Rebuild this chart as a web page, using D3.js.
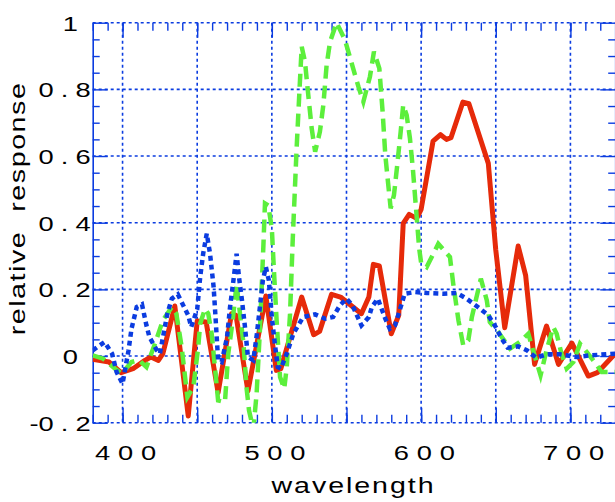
<!DOCTYPE html>
<html>
<head>
<meta charset="utf-8">
<script src="https://cdn.jsdelivr.net/npm/d3@7"></script>
<style>
  body { margin: 0; background: #fff; }
  svg { display: block; }
</style>
</head>
<body>
<script>
// values
const redNm = [380, 391, 399, 407, 415, 419, 424, 427, 435, 444, 450, 456, 464, 473, 476, 484, 496, 503, 506, 520, 528, 532, 540, 546, 560, 565, 568, 572, 580, 585, 588, 592, 597, 600, 608, 613, 617, 620, 628, 632, 645, 650, 656, 665, 670, 676, 684, 692, 701, 712, 718, 730];
const redVal = [-0.01, -0.018, -0.05, -0.038, -0.013, -0.003, -0.013, 0.007, 0.15, -0.18, 0.105, 0.102, -0.11, 0.127, 0.122, -0.105, 0.18, -0.043, -0.038, 0.177, 0.064, 0.074, 0.185, 0.177, 0.127, 0.177, 0.275, 0.27, 0.067, 0.122, 0.398, 0.425, 0.413, 0.44, 0.645, 0.664, 0.65, 0.655, 0.762, 0.757, 0.578, 0.318, 0.085, 0.33, 0.242, -0.025, 0.09, -0.025, 0.039, -0.06, -0.05, 0.007];

const blueNm = [380, 388, 393, 396, 400, 404, 406, 409.5, 413, 416, 418, 423, 425, 430, 433, 437, 444, 446, 450, 452, 454, 456.4, 458.6, 461, 462.4, 464, 466.4, 470, 472, 474, 476.4, 478, 480, 482, 484, 487.6, 490, 492, 494, 496, 498, 500, 502, 504, 506, 510, 514.4, 517.7, 521, 529, 535.6, 541, 545.6, 550, 554, 557, 560, 565, 567, 571, 576, 579, 582.5, 587, 589, 596, 604, 615, 624, 630.5, 638, 645, 650, 654, 658, 665, 671, 677, 684, 693, 704, 713, 730];
const blueVal = [0.017, 0.042, 0.007, -0.048, -0.083, 0.017, 0.082, 0.147, 0.155, 0.092, 0.057, 0.017, 0.007, 0.127, 0.172, 0.185, 0.122, 0.087, 0.14, 0.237, 0.307, 0.367, 0.307, 0.207, 0.107, -0.013, -0.018, 0.057, 0.147, 0.217, 0.307, 0.237, 0.167, 0.087, -0.003, -0.013, 0.067, 0.147, 0.227, 0.267, 0.227, 0.117, 0.037, -0.033, -0.038, 0.007, 0.067, 0.092, 0.117, 0.125, 0.112, 0.117, 0.152, 0.172, 0.152, 0.122, 0.092, 0.117, 0.147, 0.172, 0.112, 0.082, 0.092, 0.157, 0.187, 0.192, 0.189, 0.187, 0.189, 0.172, 0.147, 0.122, 0.087, 0.052, 0.025, 0.029, 0.017, -0.005, 0.005, 0.005, -0.003, 0.002, 0.007];

const greenNm = [380, 387, 395, 399.4, 406, 411, 416, 421.7, 427, 433, 436, 439.6, 443.4, 447.4, 450.7, 452, 455.2, 457.4, 459.7, 464, 468.6, 470.8, 473.5, 476.4, 477.5, 481, 483, 484.7, 487.6, 489.8, 492, 494.3, 495.4, 497.6, 500, 501.4, 503.2, 505.5, 508.3, 510, 512.2, 514, 516.6, 518.8, 520, 522.2, 524.4, 526.7, 529, 532.2, 534.5, 536.7, 539, 543.4, 549, 553.5, 558, 561.3, 565.7, 568.4, 572, 574.2, 576, 578, 579.6, 581.8, 584, 586.3, 588, 590.3, 592.5, 594.5, 596.5, 598.7, 600, 603.7, 609.3, 611.5, 619.3, 621.5, 625, 628.2, 631.6, 634, 640, 644, 646, 651.7, 659.5, 666, 671.8, 675, 680, 684, 688.5, 690.8, 694, 697.5, 702, 706.4, 711, 715.3, 721, 730];
const greenVal = [0.002, -0.008, -0.038, -0.053, -0.018, -0.012, -0.033, 0.037, 0.107, 0.147, 0.127, 0.027, -0.123, -0.093, 0.027, 0.097, 0.142, 0.127, 0.067, -0.133, -0.138, 0.007, 0.097, 0.217, 0.172, 0.037, -0.093, -0.163, -0.22, -0.113, 0.077, 0.327, 0.458, 0.452, 0.382, 0.257, 0.107, -0.063, -0.098, -0.033, 0.127, 0.35, 0.623, 0.823, 0.928, 0.883, 0.783, 0.683, 0.613, 0.673, 0.753, 0.873, 0.943, 1.0, 0.948, 0.878, 0.808, 0.763, 0.838, 0.913, 0.863, 0.733, 0.603, 0.513, 0.443, 0.483, 0.573, 0.673, 0.753, 0.723, 0.653, 0.56, 0.447, 0.322, 0.28, 0.267, 0.317, 0.337, 0.297, 0.217, 0.107, 0.032, 0.047, 0.117, 0.232, 0.167, 0.102, 0.072, 0.022, 0.042, 0.067, 0.017, -0.058, 0.017, 0.087, 0.067, 0.007, -0.038, -0.018, 0.037, 0.012, -0.013, -0.048, -0.048];

const xLabelTicks = [400, 500, 600, 700];
const xGridTicks = [400, 450, 500, 550, 600, 650, 700];
const xMinorTicks = [380, 390, 400, 410, 420, 430, 440, 450, 460, 470, 480, 490, 500, 510, 520, 530, 540, 550, 560, 570, 580, 590, 600, 610, 620, 630, 640, 650, 660, 670, 680, 690, 700, 710, 720, 730];
const yLabelTicks = [-0.2, 0, 0.2, 0.4, 0.6, 0.8, 1];
const yMinorTicks = [-0.15, -0.1, -0.05, 0.05, 0.1, 0.15, 0.25, 0.3, 0.35, 0.45, 0.5, 0.55, 0.65, 0.7, 0.75, 0.85, 0.9, 0.95];

const width = 615;
const height = 502;
const blue = '#0b3ce0';
const font = '"Liberation Sans", Arial, Helvetica, sans-serif';

const x = d3.scaleLinear().domain([380, 730]).range([92.7, 615.2]);
const y = d3.scaleLinear().domain([-0.2, 1]).range([422.7, 22.7]);

const svg = d3.select('body')
  .append('svg')
  .attr('width', width)
  .attr('height', height);

// dotted grid
svg.append('g').selectAll('line')
  .data(xGridTicks)
  .enter()
  .append('line')
  .attr('x1', d => x(d)).attr('x2', d => x(d))
  .attr('y1', y(1)).attr('y2', y(-0.2))
  .attr('stroke', blue).attr('stroke-width', 1.6)
  .attr('stroke-dasharray', '3,3');

svg.append('g').selectAll('line')
  .data(yLabelTicks)
  .enter()
  .append('line')
  .attr('x1', x(380)).attr('x2', x(730))
  .attr('y1', d => y(d)).attr('y2', d => y(d))
  .attr('stroke', blue).attr('stroke-width', 1.6)
  .attr('stroke-dasharray', '3,3');

// tick marks on all four sides
function tickAxis(axis, transform, keepDomain) {
  const g = svg.append('g').attr('transform', transform).call(axis);
  g.selectAll('line').attr('stroke', blue).attr('stroke-width', 1.4);
  g.selectAll('text').remove();
  if (keepDomain) g.select('.domain').attr('stroke', blue).attr('stroke-width', 1.6);
  else g.select('.domain').remove();
}

tickAxis(d3.axisTop(x).tickValues(xMinorTicks).tickSize(8).tickSizeOuter(0), `translate(0,${y(-0.2)})`, false);
tickAxis(d3.axisTop(x).tickValues(xGridTicks).tickSize(15).tickSizeOuter(0), `translate(0,${y(-0.2)})`, false);
tickAxis(d3.axisBottom(x).tickValues(xMinorTicks).tickSize(8).tickSizeOuter(0), `translate(0,${y(1)})`, false);
tickAxis(d3.axisBottom(x).tickValues(xGridTicks).tickSize(15).tickSizeOuter(0), `translate(0,${y(1)})`, false);
tickAxis(d3.axisRight(y).tickValues(yMinorTicks).tickSize(7).tickSizeOuter(0), `translate(${x(380)},0)`, true);
tickAxis(d3.axisRight(y).tickValues(yLabelTicks).tickSize(15).tickSizeOuter(0), `translate(${x(380)},0)`, false);
tickAxis(d3.axisLeft(y).tickValues(yMinorTicks).tickSize(7).tickSizeOuter(0), `translate(${x(730)},0)`, true);
tickAxis(d3.axisLeft(y).tickValues(yLabelTicks).tickSize(15).tickSizeOuter(0), `translate(${x(730)},0)`, false);

// tick labels (wide, spaced lettering)
const xl = svg.append('g')
  .attr('transform', 'translate(0,460)')
  .call(d3.axisBottom(x).tickValues(xLabelTicks).tickSize(0).tickFormat(d3.format('d')));
xl.select('.domain').remove();
xl.selectAll('text')
  .attr('y', 0).attr('dy', 0).attr('dx', 5)
  .attr('transform', 'scale(1.3,1)')
  .attr('fill', '#000')
  .style('font-family', font).style('font-size', '21px')
  .style('letter-spacing', '6px')
  .attr('text-anchor', 'middle');

const yl = svg.append('g')
  .attr('transform', `translate(${x(380)},0)`)
  .call(d3.axisLeft(y).tickValues(yLabelTicks).tickSize(0).tickFormat(d => (d === 0 || d === 1) ? String(d) : d.toFixed(1)));
yl.select('.domain').remove();
yl.selectAll('text')
  .attr('x', d => (d === 0 || d === 1) ? -5.8 : 4)
  .attr('dy', '0.36em')
  .attr('transform', 'scale(1.3,1)')
  .attr('fill', '#000')
  .style('font-family', font).style('font-size', '21px')
  .style('letter-spacing', '5.5px')
  .attr('text-anchor', 'end')
  .each(function (d) {
    // the minus sits tight against the digit
    if (d < 0) {
      const t = d3.select(this);
      const s = t.text();
      t.text('');
      t.append('tspan').style('letter-spacing', '0px').text('-');
      t.append('tspan').text(s.slice(1));
    }
  });

// axis titles
svg.append('text')
  .attr('transform', 'translate(353.5,493) scale(1.3,1)')
  .attr('text-anchor', 'middle')
  .style('font-family', font).style('font-size', '22px')
  .style('letter-spacing', '1.5px')
  .text('wavelength');

svg.append('text')
  .attr('transform', 'translate(25,208.5) rotate(-90) scale(1.3,1)')
  .attr('text-anchor', 'middle')
  .style('font-family', font).style('font-size', '22px')
  .style('letter-spacing', '1.2px')
  .style('white-space', 'pre')
  .text('relative  response');

// curves
svg.append('clipPath').attr('id', 'plot')
  .append('rect')
  .attr('x', x(380)).attr('y', y(1))
  .attr('width', x(730) - x(380)).attr('height', y(-0.2) - y(1));

const line = d3.line().x(d => x(d[0])).y(d => y(d[1]));
const curves = svg.append('g').attr('clip-path', 'url(#plot)');

curves.append('path')
  .datum(d3.zip(redNm, redVal))
  .attr('d', line)
  .attr('fill', 'none')
  .attr('stroke', '#e62a0a')
  .attr('stroke-width', 5)
  .attr('stroke-linejoin', 'round');

curves.append('path')
  .datum(d3.zip(greenNm, greenVal))
  .attr('d', line)
  .attr('fill', 'none')
  .attr('stroke', '#5cef3c')
  .attr('stroke-width', 4.5)
  .attr('stroke-dasharray', '13,7');

curves.append('path')
  .datum(d3.zip(blueNm, blueVal))
  .attr('d', line)
  .attr('fill', 'none')
  .attr('stroke', blue)
  .attr('stroke-width', 4.5)
  .attr('stroke-dasharray', '5,4');
</script>
</body>
</html>
